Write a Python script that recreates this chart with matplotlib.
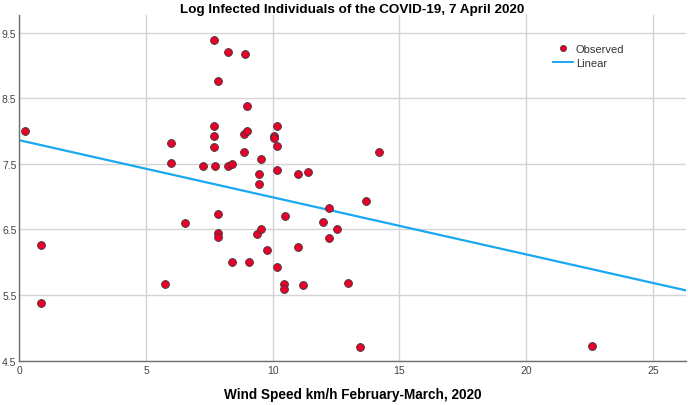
import matplotlib
matplotlib.use("Agg")
import matplotlib.pyplot as plt
import numpy as np
from matplotlib.lines import Line2D

plt.rcParams['font.family'] = ['Liberation Sans', 'DejaVu Sans']

wind = [0.22, 5.99, 5.99, 7.69, 8.24, 8.89, 7.84, 8.99, 7.69, 7.69, 7.69, 8.88, 8.99, 8.88,
        7.23, 7.74, 8.24, 8.40, 9.55, 9.44, 9.44, 10.03, 10.03, 10.17, 10.18, 10.18, 10.99,
        11.39, 14.20, 12.20, 12.98, 7.84, 6.54, 10.49, 11.99, 12.54, 12.20, 7.84, 7.84, 9.38,
        9.54, 0.84, 0.84, 9.79, 10.99, 8.38, 9.08, 10.17, 5.74, 10.44, 10.44, 11.19, 13.69,
        13.44, 22.60]
log_infected = [8.00, 7.82, 7.51, 9.38, 9.20, 9.18, 8.76, 8.38, 8.08, 7.92, 7.76, 7.96, 8.00, 7.68,
                7.47, 7.47, 7.46, 7.50, 7.58, 7.34, 7.19, 7.93, 7.89, 8.08, 7.77, 7.41, 7.35,
                7.37, 7.68, 6.83, 5.68, 6.73, 6.60, 6.71, 6.61, 6.50, 6.37, 6.45, 6.39, 6.43,
                6.50, 6.26, 5.38, 6.18, 6.24, 6.00, 6.00, 5.93, 5.67, 5.67, 5.59, 5.65, 6.94,
                4.71, 4.72]
fit_intercept = 7.86
fit_slope = -0.087

x_ticks = [0, 5, 10, 15, 20, 25]
y_ticks = [4.5, 5.5, 6.5, 7.5, 8.5, 9.5]

fig = plt.figure(figsize=(6.88, 4.06), dpi=100)
ax = fig.add_axes([0.028, 0.109, 0.969, 0.852])
xmin, xmax = 0, 26.3
ymin, ymax = 4.5, 9.77
ax.set_xlim(xmin, xmax)
ax.set_ylim(ymin, ymax)

ax.set_xticks(x_ticks)
ax.set_yticks(y_ticks)
ax.grid(True, color='#d4d4d4', lw=1.0)
ax.set_axisbelow(True)
for s in ['top', 'right']:
    ax.spines[s].set_visible(False)
for s in ['left', 'bottom']:
    ax.spines[s].set_color('#6e6e6e')
    ax.spines[s].set_linewidth(1.0)
ax.tick_params(length=0, labelsize=7.5, labelcolor='#444444', pad=3)
ax.tick_params(axis='y', pad=2)

xs = np.array([xmin, xmax])
ax.plot(xs, fit_intercept + fit_slope * xs, color='#1aa8f0', lw=1.6, zorder=2)
ax.scatter(wind, log_infected, s=32, facecolor='#e8002b', edgecolor='#3a3a3a', linewidth=0.6, zorder=3)

ax.set_title('Log Infected Individuals of the COVID-19, 7 April 2020', fontsize=9.7,
             fontweight='bold', pad=2)
ax.set_xlabel('Wind Speed km/h February-March, 2020', fontsize=9.8, fontweight='bold', labelpad=9)

handles = [Line2D([], [], marker='o', ls='none', markersize=4.5, markerfacecolor='#e8002b',
                  markeredgecolor='#3a3a3a', markeredgewidth=0.5),
           Line2D([], [], color='#1aa8f0', lw=1.4)]
ax.legend(handles, ['Observed', 'Linear'], loc='upper left', bbox_to_anchor=(0.785, 0.945),
          frameon=False, fontsize=8, handlelength=1.8, handletextpad=0.3, labelspacing=0.35,
          labelcolor='#333333')

fig.savefig('out.png', dpi=100)
